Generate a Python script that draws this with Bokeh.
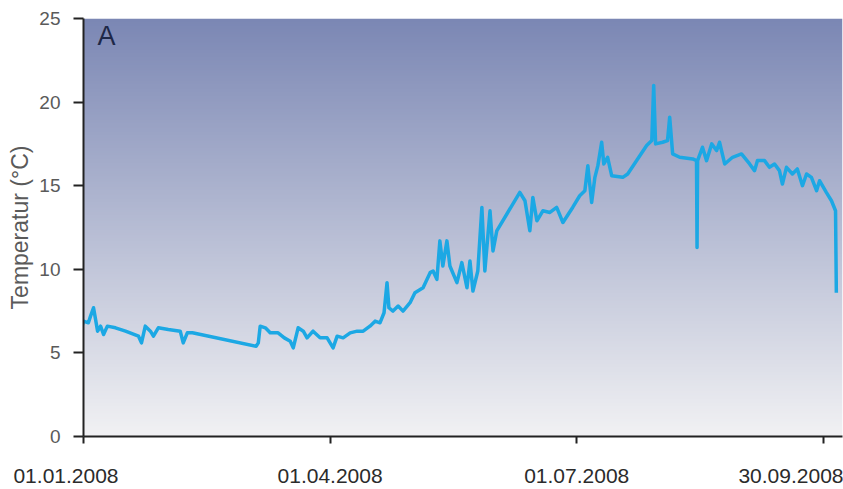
import numpy as np
from bokeh.plotting import figure
from bokeh.models import FixedTicker, Label, Range1d
from bokeh.embed import file_html
from bokeh.resources import INLINE

# days since 01.01.2008
day = [-5.5, -3.3, -2.2, -1.1, 0.0, 1.8, 2.6, 3.7, 5.2, 6.3, 7.4, 8.8, 11.8, 15.5,
       20.3, 21.4, 22.8, 24.7, 25.8, 27.6, 31.3, 35.7, 36.8, 38.3, 40.2, 63.7, 64.5,
       65.2, 67.1, 68.9, 71.8, 74.1, 76.3, 77.4, 79.2, 81.1, 82.5, 84.7, 87.3, 89.9,
       92.1, 93.6, 95.8, 98.4, 101.0, 103.2, 105.7, 107.6, 109.4, 110.9, 112.0, 112.7,
       114.2, 116.1, 117.9, 120.5, 122.3, 125.3, 127.9, 129.0, 130.4, 131.5, 132.6,
       134.1, 135.2, 137.8, 139.6, 141.5, 142.6, 143.7, 145.5, 147.0, 148.1, 150.0,
       151.1, 152.5, 161.0, 162.9, 164.7, 165.8, 167.3, 169.5, 172.1, 174.6, 176.9,
       180.5, 183.1, 185.0, 186.1, 187.5, 188.7, 189.8, 191.2, 192.0, 193.4, 194.9,
       199.0, 200.8, 207.8, 209.7, 210.4, 211.1, 213.7, 215.5, 216.3, 217.4, 220.0,
       224.8, 226.2, 226.4, 226.6, 228.4, 229.9, 231.8, 233.6, 234.7, 236.6, 239.5,
       242.8, 245.8, 247.6, 248.7, 251.3, 253.1, 255.0, 256.8, 257.9, 259.4, 261.6,
       263.4, 265.3, 266.8, 268.6, 270.5, 271.6, 274.1, 276.0, 277.5, 277.8]
temp = [7.4, 7.1, 7.1, 6.3, 6.9, 6.8, 7.2, 7.7, 6.3, 6.6, 6.1, 6.6, 6.5, 6.3,
        6.0, 5.6, 6.6, 6.3, 6.0, 6.5, 6.4, 6.3, 5.6, 6.2, 6.2, 5.4, 5.6,
        6.6, 6.5, 6.2, 6.2, 5.9, 5.7, 5.3, 6.5, 6.3, 5.9, 6.3, 5.9, 5.9,
        5.3, 6.0, 5.9, 6.2, 6.3, 6.3, 6.6, 6.9, 6.8, 7.4, 9.2, 7.7,
        7.5, 7.8, 7.5, 8.0, 8.6, 8.9, 9.8, 9.9, 9.4, 11.7, 10.2,
        11.7, 10.2, 9.2, 10.4, 8.9, 10.5, 8.7, 9.9, 13.7, 9.9, 13.5,
        11.1, 12.3, 14.6, 14.1, 12.3, 14.3, 12.9, 13.5, 13.4, 13.7, 12.8,
        13.7, 14.4, 14.7, 16.2, 14.0, 15.5, 16.2, 17.6, 16.3, 16.7, 15.6,
        15.5, 15.7, 17.4, 17.7, 21.0, 17.5, 17.6, 17.7, 19.1, 16.9, 16.7,
        16.6, 16.5, 11.3, 16.5, 17.3, 16.5, 17.5, 17.1, 17.6, 16.3, 16.7,
        16.9, 16.3, 15.9, 16.5, 16.5, 16.1, 16.3, 15.9, 15.1, 16.1, 15.7,
        16.0, 15.0, 15.7, 15.5, 14.7, 15.3, 14.6, 14.1, 13.5, 8.6]

x_ticks = [0, 91, 182, 273]
x_tick_labels = ["01.01.2008", "01.04.2008", "01.07.2008", "30.09.2008"]
# trailing no-break spaces pull the first label to the left, as in the original
x_label_pad = [6, 0, 0, 0]
y_ticks = [0, 5, 10, 15, 20, 25]
y_title = "Temperatur (°C)"
panel_letter = "A"

X_END = 280.07

p = figure(width=843, height=489, output_backend="svg", toolbar_location=None,
           x_range=Range1d(x_ticks[0], X_END), y_range=Range1d(y_ticks[0], y_ticks[-1]),
           min_border_left=83, min_border_right=1, min_border_top=18,
           min_border_bottom=53)
p.background_fill_color = "white"
p.border_fill_color = "white"
p.outline_line_color = None
p.xgrid.visible = False
p.ygrid.visible = False

# vertical gradient background of the plot area
N = 256
t = np.linspace(0.0, 1.0, N)
img = np.empty((N, 1), dtype=np.uint32)
view = img.view(dtype=np.uint8).reshape((N, 1, 4))
view[:, 0, 0] = np.round(241 + (123 - 241) * t).astype(np.uint8)
view[:, 0, 1] = np.round(241 + (135 - 241) * t).astype(np.uint8)
view[:, 0, 2] = np.round(243 + (180 - 243) * t).astype(np.uint8)
view[:, 0, 3] = 255
p.image_rgba(image=[img], x=x_ticks[0], y=y_ticks[0],
             dw=X_END - x_ticks[0], dh=y_ticks[-1] - y_ticks[0])

p.line(day, temp, line_color="#1ca8e4", line_width=3.5, line_join="round")

# y axis
yax = p.yaxis[0]
yax.ticker = FixedTicker(ticks=y_ticks)
yax.axis_line_color = "#222222"
yax.axis_line_width = 2
yax.major_tick_line_color = "#222222"
yax.major_tick_line_width = 2
yax.major_tick_out = 10
yax.major_tick_in = 0
yax.minor_tick_line_color = None
yax.major_label_standoff = 13
yax.major_label_text_font = "Liberation Sans"
yax.major_label_text_font_size = "19px"
yax.major_label_text_color = "#5a5a5a"
yax.axis_label = y_title
yax.axis_label_standoff = 3
yax.axis_label_text_font = "Liberation Sans"
yax.axis_label_text_font_size = "23px"
yax.axis_label_text_font_style = "normal"
yax.axis_label_text_color = "#5a5a5a"

# x axis
xax = p.xaxis[0]
xax.ticker = FixedTicker(ticks=x_ticks)
xax.axis_line_color = "#222222"
xax.axis_line_width = 2
xax.major_tick_line_color = "#222222"
xax.major_tick_line_width = 2
xax.major_tick_out = 7
xax.major_tick_in = 0
xax.minor_tick_line_color = None
xax.major_label_standoff = 20
xax.major_label_text_font = "Liberation Sans"
xax.major_label_text_font_size = "21px"
xax.major_label_text_color = "#2b2b2b"
xax.major_label_overrides = {
    xt: lab + "\u00a0" * pad for xt, lab, pad in zip(x_ticks, x_tick_labels, x_label_pad)
}

p.add_layout(Label(x=x_ticks[0], y=y_ticks[-1], text=panel_letter,
                   x_offset=14, y_offset=-2,
                   text_align="left", text_baseline="top",
                   text_font="Liberation Sans", text_font_size="27px",
                   text_color="#1e2848"))

open("out.html", "w").write(file_html(p, INLINE))
